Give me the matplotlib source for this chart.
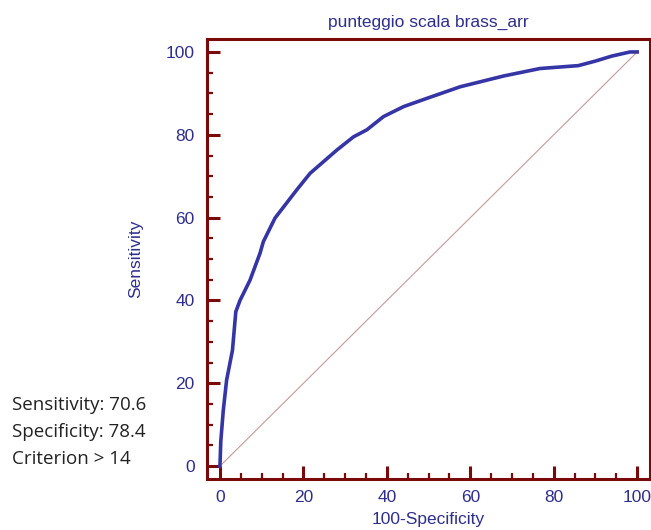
import matplotlib
matplotlib.use("Agg")
import matplotlib.pyplot as plt
from matplotlib.ticker import MultipleLocator

# ROC curve
fpr = [0, 0.2, 0.8, 1.6, 3.0, 3.8, 4.8, 7.2, 9.6, 10.4, 13.2, 18.4, 21.6,
       28.0, 32.0, 35.2, 39.2, 44.0, 49.6, 57.6, 60.0, 68.0, 76.7, 85.9,
       90.0, 93.9, 98.3, 100]
sens = [0, 6.0, 13.5, 20.8, 28.0, 37.3, 40.0, 44.9, 51.4, 54.2, 59.9, 66.7,
        70.7, 76.3, 79.5, 81.2, 84.4, 86.8, 88.8, 91.6, 92.2, 94.2, 96.0,
        96.7, 97.8, 99.0, 100, 100]
info_lines = ["Sensitivity: 70.6", "Specificity: 78.4", "Criterion > 14"]

navy = "#2e2e8f"
dark_red = "#7a0a0a"

plt.rcParams["font.family"] = ["Liberation Sans", "DejaVu Sans"]

fig = plt.figure(figsize=(6.51, 5.30), dpi=100)
ax = fig.add_axes([0.318, 0.0962, 0.680, 0.830])

ax.plot([0, 100], [0, 100], color="#c49a9a", lw=0.8)
ax.plot(fpr, sens, color="#3535a5", lw=2.6, solid_joinstyle="round")

ax.set_xlim(-3.1, 103)
ax.set_ylim(-3.1, 103.1)
ax.xaxis.set_major_locator(MultipleLocator(20))
ax.xaxis.set_minor_locator(MultipleLocator(5))
ax.yaxis.set_major_locator(MultipleLocator(20))
ax.yaxis.set_minor_locator(MultipleLocator(5))

for s in ax.spines.values():
    s.set_color(dark_red)
    s.set_linewidth(2.2)
ax.tick_params(which="major", direction="in", length=9.5, width=2.2,
               color=dark_red, labelcolor=navy, labelsize=12.5, pad=8)
ax.tick_params(which="minor", direction="in", length=4.5, width=1.6,
               color=dark_red)
ax.tick_params(axis="y", pad=9)

ax.set_title("punteggio scala brass_arr", color=navy, fontsize=12.5, pad=9)
ax.set_xlabel("100-Specificity", color=navy, fontsize=12.5, labelpad=5)
ax.set_ylabel("Sensitivity", color=navy, fontsize=12.5, labelpad=16)

for i, line in enumerate(info_lines):
    fig.text(12 / 651, 1 - (405 + i * 27) / 530, line, family="Open Sans",
             fontsize=13.5, color="#222222", va="center", ha="left")

fig.savefig("out.png", dpi=100)
